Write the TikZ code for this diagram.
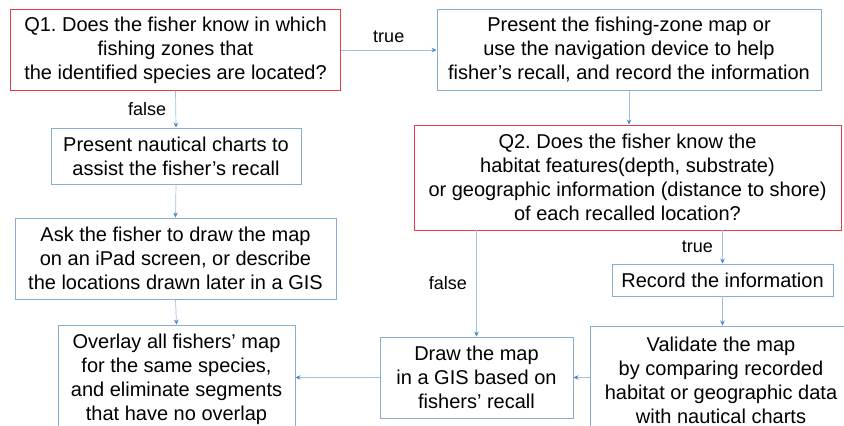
\documentclass[tikz,border=0pt]{standalone}
\usepackage{fontspec}
\setmainfont{Liberation Sans}
\usepackage{xcolor}
\usetikzlibrary{arrows.meta, positioning}
\definecolor{boxblue}{RGB}{135,172,214}
\definecolor{qred}{RGB}{226,62,72}
\definecolor{lineblue}{RGB}{160,192,228}
\definecolor{tipblue}{RGB}{80,132,200}
\frenchspacing

\begin{document}
\begin{tikzpicture}[x=1pt,y=-1pt,
 box/.style={rectangle,draw=boxblue,line width=0.9pt,align=center,inner sep=0pt,
   font=\fontsize{20}{24}\selectfont},
 qbox/.style={box,draw=qred},
 flow/.style={draw=lineblue,line width=0.7pt,
   -{Stealth[length=5pt,width=4.5pt,color=tipblue]}},
 lbl/.style={font=\fontsize{18}{21}\selectfont}]
 \clip (0,0) rectangle (844,426);
 \useasboundingbox (0,0) rectangle (844,426);
 % left column
 \node[qbox,minimum width=330,minimum height=81] (q1) at (175.5,50)
   {Q1. Does the fisher know in which\\fishing zones that\\the identified species are located?};
 \node[box,minimum width=250,minimum height=56] (nautical) at (176,156)
   {Present nautical charts to\\assist the fisher’s recall};
 \node[box,minimum width=321,minimum height=81] (ask) at (175.5,258.5)
   {Ask the fisher to draw the map\\on an iPad screen, or describe\\the locations drawn later in a GIS};
 \node[box,minimum width=237,minimum height=108] (overlay) at (176.5,379)
   {Overlay all fishers’ map\\for the same species,\\and eliminate segments\\that have no overlap};
 % right column
 \node[box,minimum width=384,minimum height=81] (fishzone) at (629,50)
   {Present the fishing-zone map or\\use the navigation device to help\\fisher’s recall, and record the information};
 \node[qbox,minimum width=427,minimum height=105] (q2) at (627.5,177.5)
   {Q2. Does the fisher know the\\habitat features(depth, substrate)\\or geographic information (distance to shore)\\of each recalled location?};
 \node[box,minimum width=221,minimum height=32] (record) at (722.5,280)
   {Record the information};
 \node[box,minimum width=262,minimum height=108] (validate) at (721,380)
   {Validate the map\\by comparing recorded\\habitat or geographic data\\with nautical charts};
 \node[box,minimum width=193,minimum height=81] (draw) at (476.5,377.5)
   {Draw the map\\in a GIS based on\\fishers’ recall};
 % connectors
 \draw[flow] (q1.east) -- node[lbl,above=4pt]{true} (q1.east -| fishzone.west);
 \draw[flow] (q1.south) -- node[lbl,left=6pt]{false} (nautical.north);
 \draw[flow] (nautical.south) -- (ask.north);
 \draw[flow] (ask.south) -- (overlay.north);
 \draw[flow] (fishzone.south) -- (fishzone.south |- q2.north);
 \draw[flow] (draw.north |- q2.south) -- node[lbl,left=6pt]{false} (draw.north);
 \draw[flow] (record.north |- q2.south) -- node[lbl,left=6pt]{true} (record.north);
 \draw[flow] (record.south) -- (validate.north -| record.south);
 \draw[flow] (draw.east -| validate.west) -- (draw.east);
 \draw[flow] (draw.west) -- (draw.west -| overlay.east);
\end{tikzpicture}
\end{document}
